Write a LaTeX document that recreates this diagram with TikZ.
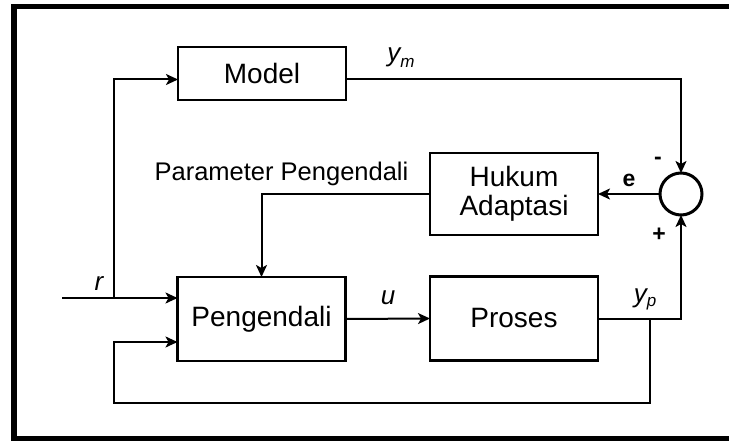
\documentclass[tikz,border=0pt]{standalone}
\usepackage{fontspec}
\setmainfont{Liberation Sans}
\usetikzlibrary{arrows.meta}

\begin{document}
\begin{tikzpicture}[x=1pt,y=-1pt,
  blok/.style={draw,line width=2.6pt,inner sep=0pt,outer sep=0pt,minimum width=\boxw pt,align=center,font=\fontsize{28}{29}\selectfont},
  sig/.style={line width=2pt,-{Stealth[length=12pt,width=11pt,inset=3pt]}},
  lbl/.style={inner sep=0pt,anchor=base,font=\fontsize{26}{26}\selectfont\itshape},
  tanda/.style={inner sep=0pt,anchor=base,font=\fontsize{23}{23}\selectfont\bfseries}]
  \def\boxw{168};
  \def\lowh{84};
  \useasboundingbox (0,0) rectangle (729,441);
  % outer frame
  \draw[line width=5.5pt] (729,6.5)--(14,6.5)--(14,438.5)--(729,438.5);

  \node[blok,minimum height=53pt] (model) at (262,73.5) {Model};
  \node[blok,minimum height=82pt] (hukum) at (514,194) {Hukum\\Adaptasi};
  \node[blok,minimum height=\lowh pt] (pengendali) at (261.5,319) {Pengendali};
  \node[blok,minimum height=\lowh pt] (proses) at (514,318.5) {Proses};
  \node[draw,circle,line width=3pt,minimum size=42pt,inner sep=0pt,outer sep=0pt] (sum) at (681,194) {};

  \coordinate (rin) at (62,298);
  \coordinate (rsplit) at (114,298);
  \coordinate (ysplit) at ([xshift=52pt]proses.east);
  \coordinate (fbcorner) at (114,403);

  \draw[sig] (rin)--(rin -| pengendali.west);
  \draw[sig] (rsplit) |- ([yshift=-6pt]model.west);
  \draw[sig] ([yshift=-6pt]model.east) -| (sum.north);
  \draw[sig] (sum.west)--(hukum.east);
  \draw[sig] (hukum.west) -| (pengendali.north);
  \draw[sig] (pengendali.east)--(proses.west);
  \draw[sig] (proses.east) -| (sum.south);
  \draw[sig] (ysplit) |- (fbcorner) |- ([yshift=-23pt]pengendali.west);

  \node[lbl] (rlab) at (99,290) {r};
  \node[lbl] (ulab) at (388,305) {u};
  \node[tanda] (elab) at (629,187) {e};
  \node[lbl] (ymlab) at (401,62) {y\raisebox{-6pt}{\fontsize{17}{17}\selectfont m}};
  \node[lbl] (yplab) at (645,302) {y\raisebox{-4pt}{\fontsize{17}{17}\selectfont p}};
  \node[tanda] (minus) at (658,165) {-};
  \node[tanda] (plus) at (659,242) {+};
  \node[lbl,font=\fontsize{25.5}{26}\selectfont] (param) at (281.5,181) {Parameter Pengendali};
\end{tikzpicture}
\end{document}
